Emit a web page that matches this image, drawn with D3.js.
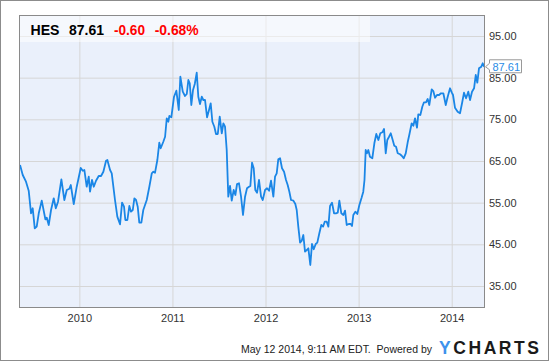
<!DOCTYPE html>
<html><head><meta charset="utf-8">
<script src="https://cdn.jsdelivr.net/npm/d3@7"></script>
<style>body{margin:0;background:#fff}svg{display:block;font-family:"Liberation Sans",Arial,sans-serif}</style>
</head><body><svg id="c" width="550" height="362"></svg>
<script>
const ticker = "HES", lastPrice = "87.61", change = "-0.60", changePct = "-0.68%";
const yearTicks = [2010, 2011, 2012, 2013, 2014];
const priceTicks = [35, 45, 55, 65, 75, 85, 95];
const footerText = "May 12 2014, 9:11 AM EDT.  Powered by";
const years = [
2009.363,2009.392,2009.427,2009.456,2009.481,2009.499,2009.521,2009.542,2009.564,2009.596,2009.635,2009.650,2009.671,2009.696,2009.725,2009.747,2009.771,2009.807,2009.839,2009.865,2009.893,2009.908,2009.940,2009.972,2010.015,2010.037,2010.054,2010.079,2010.101,2010.115,2010.136,2010.155,2010.179,2010.208,2010.233,2010.258,2010.287,
2010.301,2010.330,2010.348,2010.383,2010.408,2010.437,2010.459,2010.480,2010.494,2010.516,2010.537,2010.555,2010.574,2010.591,2010.609,2010.627,2010.644,2010.666,2010.687,2010.724,2010.752,2010.778,2010.795,2010.813,2010.838,2010.859,2010.874,2010.902,2010.921,2010.939,2010.956,2010.967,2010.988,2011.017,2011.042,2011.068,2011.085,2011.111,2011.135,2011.154,2011.171,
2011.186,2011.203,2011.221,2011.240,2011.261,2011.278,2011.296,2011.315,2011.332,2011.350,2011.372,2011.393,2011.411,2011.429,2011.450,2011.468,2011.487,2011.508,2011.530,2011.547,2011.565,2011.583,2011.600,2011.619,2011.637,2011.658,2011.676,2011.694,2011.715,2011.737,2011.758,2011.780,2011.801,2011.823,2011.837,2011.855,2011.873,2011.890,2011.909,2011.930,2011.952,2011.970,2011.995,2012.016,2012.038,2012.059,
2012.084,2012.102,2012.120,2012.137,2012.156,2012.177,2012.199,2012.220,2012.238,2012.256,2012.274,2012.299,2012.320,2012.335,2012.352,2012.371,2012.389,2012.406,2012.424,2012.443,2012.460,2012.481,2012.499,2012.518,2012.539,2012.556,2012.578,2012.599,2012.618,2012.636,2012.657,2012.675,2012.693,2012.714,2012.736,2012.757,2012.776,2012.793,2012.814,2012.836,2012.854,2012.872,2012.894,2012.915,2012.929,2012.943,2012.965,2012.986,2013.008,
2013.031,2013.050,2013.063,2013.076,2013.090,2013.104,2013.122,2013.147,2013.169,2013.190,2013.212,2013.233,2013.255,2013.273,2013.291,2013.308,2013.327,2013.345,2013.366,2013.383,2013.402,2013.420,2013.445,2013.463,2013.484,2013.506,2013.527,2013.544,2013.570,2013.588,2013.606,2013.627,2013.641,2013.663,2013.684,2013.702,2013.724,2013.742,2013.759,2013.785,2013.802,2013.821,2013.842,2013.864,2013.885,2013.910,2013.936,2013.957,2013.982,2014.000,2014.014,2014.035,2014.064,2014.089,2014.114,2014.132,2014.154,2014.178,2014.197,2014.218,2014.240,2014.258,2014.275,2014.293,2014.318,2014.333,2014.350];
const prices = [
64.04,61.64,60.03,57.87,52.45,53.65,48.85,49.24,52.45,55.48,51.01,51.40,49.64,53.24,56.05,53.65,55.24,60.61,55.64,58.04,58.35,59.24,54.68,58.83,63.32,62.67,62.84,58.83,61.23,57.63,60.44,58.83,60.27,61.40,61.40,62.43,65.07,
65.24,62.84,62.05,55.64,51.64,49.81,55.00,54.04,50.84,50.84,54.20,52.84,53.24,56.05,55.64,54.04,50.20,50.20,53.24,55.64,58.83,62.05,62.43,62.19,65.24,69.39,68.05,69.63,70.83,75.25,74.43,75.80,75.49,80.43,81.87,77.24,85.23,81.63,80.60,81.08,84.44,
83.65,78.44,82.04,83.48,86.19,80.43,78.68,80.43,79.64,79.64,75.49,77.24,78.85,74.43,73.23,71.48,71.48,75.63,71.65,74.05,73.23,67.64,56.43,59.00,55.48,58.04,56.84,59.48,59.65,56.43,52.04,56.43,58.45,58.83,59.00,64.59,63.25,58.04,57.39,60.44,56.43,55.64,58.04,58.45,57.87,60.27,
56.43,61.23,62.05,65.41,65.65,63.25,62.43,60.44,59.24,57.63,55.64,55.48,54.68,53.24,49.24,45.40,45.88,47.24,43.24,43.64,44.05,40.04,45.08,43.81,45.08,45.40,47.65,49.64,49.24,50.44,50.44,49.24,54.20,55.00,52.45,52.45,52.59,55.48,52.45,52.04,53.08,49.64,49.88,49.88,49.40,52.04,52.84,52.28,54.44,
56.12,57.63,60.44,67.64,66.85,67.64,66.03,65.65,69.25,71.48,70.04,71.65,71.89,72.68,66.85,70.04,70.83,71.65,70.04,68.67,68.43,66.85,66.61,66.27,65.65,66.85,69.49,71.24,74.05,73.47,75.25,72.99,76.21,76.04,78.03,79.09,79.09,79.88,78.44,82.21,81.80,80.19,80.84,80.84,81.25,81.25,78.44,80.43,82.45,81.49,80.84,77.79,76.83,76.45,79.23,81.39,80.05,81.63,79.64,81.63,82.45,85.64,83.79,87.25,87.63,88.45,87.61];

const data = d3.zip(years, prices);
const svg = d3.select("#c");
const L = 19.5, R = 484.5, T = 15.5, B = 307.5;
const x = d3.scaleLinear().domain([2009.355, 2014.35]).range([19.3, 484.3]);
const y = d3.scaleLinear().domain([35, 95]).range([286, 36]);

svg.append("rect").attr("x", 0.5).attr("y", 0.5).attr("width", 548).attr("height", 360)
  .attr("fill", "#fff").attr("stroke", "#8c8c8c");
svg.append("rect").attr("x", L).attr("y", T).attr("width", R - L).attr("height", B - T).attr("fill", "#eaf0fb");

// grid
const gy = svg.append("g").attr("transform", `translate(${L},0)`)
  .call(d3.axisRight(y).tickValues(priceTicks).tickSize(R - L).tickFormat(""));
const gx = svg.append("g").attr("transform", `translate(0,${T})`)
  .call(d3.axisBottom(x).tickValues(yearTicks).tickSize(B - T).tickFormat(""));
[gy, gx].forEach(g => { g.select(".domain").remove(); g.selectAll("line").attr("stroke", "#d6d6d6"); });

// header box
svg.append("rect").attr("x", L).attr("y", T).attr("width", 370 - L).attr("height", 42 - T)
  .attr("fill", "#fff").attr("opacity", 0.5);
const hdr = [[ticker, 30.5, 29, "#000"], [lastPrice, 69, 35, "#000"], [change, 114, 31, "#ff0000"], [changePct, 154.7, 44, "#ff0000"]];
svg.selectAll("text.hdr").data(hdr).join("text").attr("class", "hdr")
  .attr("x", d => d[1]).attr("y", 34.5).attr("textLength", d => d[2]).attr("lengthAdjust", "spacingAndGlyphs")
  .attr("font-size", 15).attr("font-weight", "bold").attr("fill", d => d[3]).text(d => d[0]);

// line
svg.append("clipPath").attr("id", "clip").append("rect").attr("x", L).attr("y", T).attr("width", R - L).attr("height", B - T);
svg.append("path").datum(data).attr("clip-path", "url(#clip)")
  .attr("fill", "none").attr("stroke", "#1a86e6").attr("stroke-width", 1.8).attr("stroke-linejoin", "round")
  .attr("d", d3.line().x(d => x(d[0])).y(d => y(d[1])));

// frame
svg.append("rect").attr("x", L).attr("y", T).attr("width", R - L).attr("height", B - T)
  .attr("fill", "none").attr("stroke", "#8a8a8a");

// axes labels
const ay = svg.append("g").attr("transform", `translate(${R},0)`)
  .call(d3.axisRight(y).tickValues(priceTicks).tickFormat(d3.format(".2f")).tickSize(0).tickPadding(4.5));
const ax = svg.append("g").attr("transform", `translate(0,${B})`)
  .call(d3.axisBottom(x).tickValues(yearTicks).tickFormat(d3.format("d")).tickSize(0).tickPadding(6.5));
[ay, ax].forEach(g => {
  g.select(".domain").remove();
  g.selectAll("text").attr("fill", "#333").attr("font-size", 11).attr("font-family", '"Liberation Sans",Arial,sans-serif');
});

// last price label
const yc = y(+lastPrice);
svg.append("path")
  .attr("d", `M489.5,${yc - 7}H521.5V${yc + 6}H489.5V${yc + 3}L485.5,${yc}L489.5,${yc - 3.5}Z`)
  .attr("fill", "#fff").attr("stroke", "#999");
svg.append("text").attr("x", 492.5).attr("y", yc).attr("dy", "0.35em")
  .attr("font-size", 11).attr("fill", "#2a8be6").text(lastPrice);

// footer
svg.append("text").attr("x", 241).attr("y", 352.5).attr("font-size", 10.5).attr("fill", "#222")
  .attr("textLength", 191).attr("lengthAdjust", "spacingAndGlyphs")
  .style("white-space", "pre").text(footerText);
const logo = svg.append("text").attr("x", 439).attr("y", 354).attr("font-size", 17.5).attr("font-weight", "bold")
  .attr("textLength", 100).attr("lengthAdjust", "spacing");
logo.append("tspan").attr("fill", "#3d92ec").text("Y");
logo.append("tspan").attr("fill", "#1a1a1a").text("CHARTS");
</script></body></html>
